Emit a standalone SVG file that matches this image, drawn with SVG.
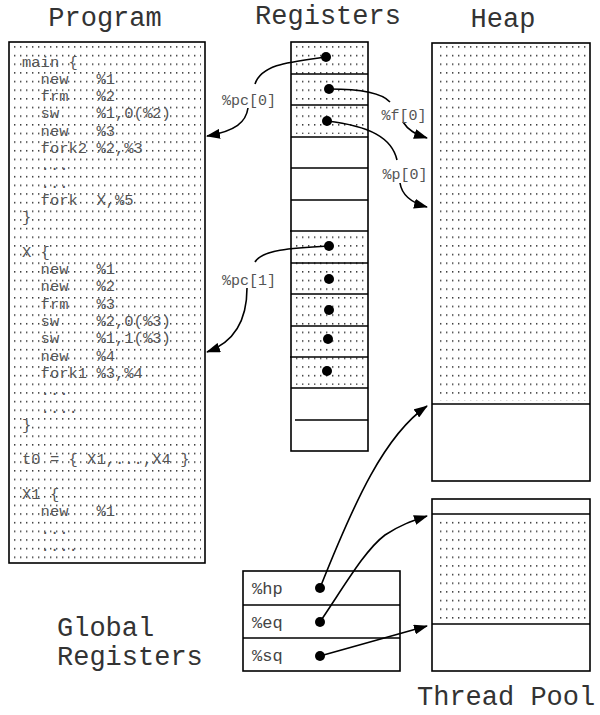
<svg xmlns="http://www.w3.org/2000/svg" width="600" height="715" viewBox="0 0 600 715">
<style>
.box{fill:none;stroke:#000;stroke-width:1.6}
.ln{stroke:#000;stroke-width:1.5}
.title{font-family:"Liberation Mono","Courier New",monospace;font-size:27px;fill:#333}
.code{font-family:"Liberation Mono","Courier New",monospace;font-size:15.5px;fill:#555;white-space:pre}
.lbl{font-family:"Liberation Mono","Courier New",monospace;font-size:15px;fill:#555}
.glbl{font-family:"Liberation Mono","Courier New",monospace;font-size:17px;fill:#444}
.con{fill:none;stroke:#000;stroke-width:1.6}
.dot{fill:#000}
</style>
<defs>
<pattern id="dots" width="6" height="8.65" patternUnits="userSpaceOnUse">
<rect x="2" y="3" width="1.4" height="1.4" fill="#222"/>
</pattern>
<marker id="ah" markerUnits="userSpaceOnUse" markerWidth="14" markerHeight="10" refX="13" refY="5" orient="auto">
<path d="M0,0 L14,5 L0,10 z" fill="#000"/>
</marker>
</defs>

<g id="titles">
<text class="title" x="105" y="26" text-anchor="middle">Program</text>
<text class="title" x="328" y="24" text-anchor="middle">Registers</text>
<text class="title" x="503" y="27" text-anchor="middle">Heap</text>
<text class="title" x="57" y="636">Global</text>
<text class="title" x="57" y="665">Registers</text>
<text class="title" x="417" y="705">Thread Pool</text>
</g>

<g id="program">
<rect x="13" y="46" width="188" height="513" fill="url(#dots)"/>
<rect class="box" x="9" y="42" width="196" height="521"/>
<text class="code" x="22" y="66.5" xml:space="preserve">main {</text>
<text class="code" x="22" y="83.8" xml:space="preserve">  new   %1</text>
<text class="code" x="22" y="101.1" xml:space="preserve">  frm   %2</text>
<text class="code" x="22" y="118.4" xml:space="preserve">  sw    %1,0(%2)</text>
<text class="code" x="22" y="135.7" xml:space="preserve">  new   %3</text>
<text class="code" x="22" y="153" xml:space="preserve">  fork2 %2,%3</text>
<text class="code" x="22" y="170.3" xml:space="preserve">  ...</text>
<text class="code" x="22" y="187.6" xml:space="preserve">  ...</text>
<text class="code" x="22" y="204.9" xml:space="preserve">  fork  X,%5</text>
<text class="code" x="22" y="222.2" xml:space="preserve">}</text>
<text class="code" x="22" y="256.8" xml:space="preserve">X {</text>
<text class="code" x="22" y="274.1" xml:space="preserve">  new   %1</text>
<text class="code" x="22" y="291.4" xml:space="preserve">  new   %2</text>
<text class="code" x="22" y="308.7" xml:space="preserve">  frm   %3</text>
<text class="code" x="22" y="326" xml:space="preserve">  sw    %2,0(%3)</text>
<text class="code" x="22" y="343.3" xml:space="preserve">  sw    %1,1(%3)</text>
<text class="code" x="22" y="360.6" xml:space="preserve">  new   %4</text>
<text class="code" x="22" y="377.9" xml:space="preserve">  fork1 %3,%4</text>
<text class="code" x="22" y="395.2" xml:space="preserve">  ...</text>
<text class="code" x="22" y="412.5" xml:space="preserve">  ....</text>
<text class="code" x="22" y="429.8" xml:space="preserve">}</text>
<text class="code" x="22" y="464.4" xml:space="preserve">t0 = { X1,...,X4 }</text>
<text class="code" x="22" y="499" xml:space="preserve">X1 {</text>
<text class="code" x="22" y="516.3" xml:space="preserve">  new   %1</text>
<text class="code" x="22" y="533.6" xml:space="preserve">  ...</text>
<text class="code" x="22" y="550.9" xml:space="preserve">  ....</text>
</g>

<g id="registers">
<rect x="295" y="45" width="70" height="89" fill="url(#dots)"/>
<rect x="295" y="234" width="70" height="151" fill="url(#dots)"/>
<rect class="box" x="291" y="42" width="77" height="409"/>
<line class="ln" x1="291" y1="74" x2="368" y2="74"/>
<line class="ln" x1="291" y1="105" x2="368" y2="105"/>
<line class="ln" x1="291" y1="137" x2="368" y2="137"/>
<line class="ln" x1="291" y1="168" x2="368" y2="168"/>
<line class="ln" x1="291" y1="200" x2="368" y2="200"/>
<line class="ln" x1="290" y1="231" x2="368" y2="231"/>
<line class="ln" x1="291" y1="263" x2="368" y2="263"/>
<line class="ln" x1="291" y1="294" x2="368" y2="294"/>
<line class="ln" x1="291" y1="326" x2="368" y2="326"/>
<line class="ln" x1="290" y1="357" x2="368" y2="357"/>
<line class="ln" x1="291" y1="388" x2="368" y2="388"/>
<line class="ln" x1="295" y1="420" x2="368" y2="420"/>
<circle class="dot" cx="326" cy="57" r="5"/>
<circle class="dot" cx="329" cy="89" r="5"/>
<circle class="dot" cx="327" cy="121" r="5"/>
<circle class="dot" cx="329" cy="246" r="5"/>
<circle class="dot" cx="329" cy="279" r="5"/>
<circle class="dot" cx="329" cy="310" r="5"/>
<circle class="dot" cx="328" cy="339" r="5"/>
<circle class="dot" cx="327" cy="371" r="5"/>
</g>

<g id="heap">
<rect x="436" y="46" width="151" height="355" fill="url(#dots)"/>
<rect class="box" x="432" y="43" width="158" height="438"/>
<line class="ln" x1="432" y1="404" x2="590" y2="404"/>
</g>

<g id="threadpool">
<rect x="436" y="517" width="151" height="104" fill="url(#dots)"/>
<rect class="box" x="432" y="499" width="158" height="172"/>
<line class="ln" x1="432" y1="514" x2="590" y2="514"/>
<line class="ln" x1="432" y1="624" x2="590" y2="624"/>
</g>

<g id="globalregs">
<rect class="box" x="243" y="571" width="157" height="100"/>
<line class="ln" x1="243" y1="605" x2="400" y2="605"/>
<line class="ln" x1="243" y1="638" x2="400" y2="638"/>
<text class="glbl" x="252" y="594">%hp</text>
<text class="glbl" x="252" y="628">%eq</text>
<text class="glbl" x="252" y="661">%sq</text>
<circle class="dot" cx="320" cy="588" r="5"/>
<circle class="dot" cx="320" cy="622" r="5"/>
<circle class="dot" cx="320" cy="656" r="5"/>
</g>

<g id="connectors">
<path class="con" d="M326,57 C290,62 262,64 255,84"/>
<path class="con" d="M248,108 C246,122 236,131 207,136" marker-end="url(#ah)"/>
<text class="lbl" x="249" y="105" text-anchor="middle">%pc[0]</text>

<path class="con" d="M329,89 C360,89 382,93 390,102"/>
<path class="con" d="M403,122 C408,130 415,134 427,138" marker-end="url(#ah)"/>
<text class="lbl" x="404" y="120" text-anchor="middle">%f[0]</text>

<path class="con" d="M327,121 C370,126 392,138 397,160"/>
<path class="con" d="M400,183 C402,196 412,203 427,207" marker-end="url(#ah)"/>
<text class="lbl" x="405" y="179" text-anchor="middle">%p[0]</text>

<path class="con" d="M329,246 C290,248 262,250 255,262"/>
<path class="con" d="M247,288 C247,320 235,342 207,352" marker-end="url(#ah)"/>
<text class="lbl" x="249" y="285" text-anchor="middle">%pc[1]</text>

<path class="con" d="M320,588 C355,500 385,435 427,406" marker-end="url(#ah)"/>
<path class="con" d="M320,622 C345,585 365,550 385,535 C400,525 412,521 427,516" marker-end="url(#ah)"/>
<path class="con" d="M320,656 L427,626" marker-end="url(#ah)"/>
</g>
</svg>
